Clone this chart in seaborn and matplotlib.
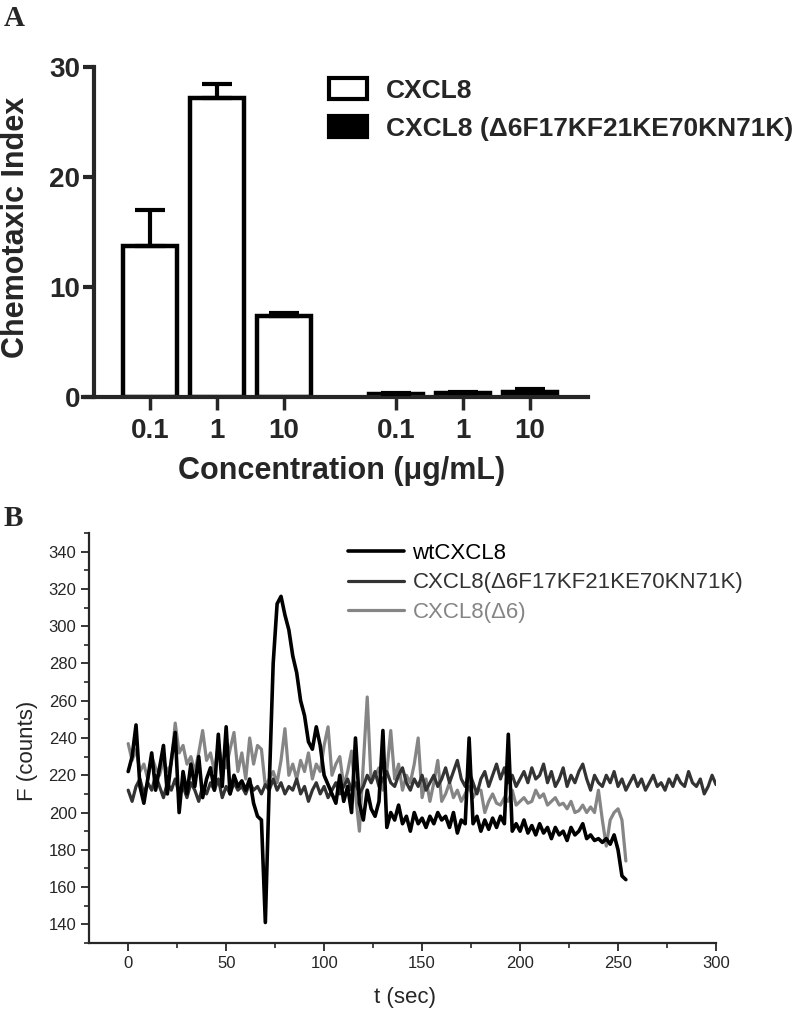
import numpy as np
import pandas as pd
import matplotlib
matplotlib.use("Agg")
import matplotlib.pyplot as plt
from matplotlib.patches import Patch
from matplotlib.ticker import MultipleLocator
import seaborn as sns

# ---------------- Data: panel A ----------------
conc_labels = ["0.1", "1", "10"]
variants = ["CXCL8", "CXCL8 (\u03946F17KF21KE70KN71K)"]
wt_index = [13.7, 27.2, 7.4]
wt_err = [3.3, 1.3, 0.2]
mut_index = [0.25, 0.35, 0.45]
mut_err = [0.1, 0.1, 0.3]

# ---------------- Data: panel B (sampled every 2 s) ----------------
series_names = ["wtCXCL8", "CXCL8(\u03946F17KF21KE70KN71K)", "CXCL8(\u03946)"]
wt_F = [222, 230, 247, 214, 205, 218, 232, 212, 224, 236,
        210, 228, 243, 200, 222, 210, 226, 214, 230, 208,
        218, 224, 212, 242, 214, 246, 210, 220, 214, 217,
        212, 218, 205, 198, 196, 141, 215, 280, 312, 316,
        306, 298, 284, 275, 260, 252, 238, 234, 246, 236,
        220, 215, 210, 205, 220, 206, 214, 200, 240, 205,
        196, 212, 202, 198, 206, 244, 192, 200, 196, 204,
        194, 198, 190, 200, 194, 197, 192, 198, 194, 200,
        196, 198, 192, 200, 189, 196, 194, 240, 194, 198,
        190, 196, 191, 197, 192, 198, 194, 242, 190, 194,
        190, 196, 189, 193, 188, 194, 189, 192, 186, 192,
        188, 190, 185, 192, 188, 190, 194, 186, 188, 185,
        186, 184, 186, 183, 188, 180, 166, 164]
mut_F = [212, 206, 214, 218, 210, 216, 212, 220, 214, 208,
         216, 212, 218, 210, 214, 208, 216, 212, 206, 214,
         210, 216, 212, 218, 208, 214, 210, 216, 212, 214,
         210, 216, 212, 214, 210, 215, 212, 218, 212, 216,
         210, 214, 212, 218, 210, 214, 206, 212, 216, 210,
         214, 208, 212, 216, 210, 214, 218, 212, 216, 210,
         214, 220, 216, 222, 214, 218, 222, 216, 214, 220,
         224, 216, 212, 218, 214, 220, 212, 216, 220, 214,
         218, 224, 216, 222, 228, 218, 214, 222, 216, 210,
         218, 222, 214, 220, 226, 218, 224, 216, 220, 214,
         218, 222, 216, 224, 218, 220, 226, 216, 222, 214,
         218, 224, 214, 220, 216, 222, 226, 218, 212, 220,
         216, 214, 220, 216, 222, 214, 218, 212, 216, 220,
         214, 218, 212, 216, 220, 214, 216, 212, 218, 214,
         220, 216, 214, 222, 216, 214, 218, 210, 214, 220,
         215]
d6_F = [237, 228, 234, 222, 226, 218, 230, 224, 220, 228,
        222, 226, 248, 232, 236, 226, 230, 222, 232, 244,
        228, 232, 222, 236, 226, 224, 234, 243, 222, 232,
        218, 240, 226, 236, 234, 214, 218, 222, 216, 228,
        245, 220, 226, 218, 228, 222, 232, 218, 226, 222,
        236, 246, 220, 226, 230, 214, 222, 233, 210, 190,
        226, 262, 216, 220, 224, 212, 222, 244, 218, 226,
        212, 220, 216, 226, 240, 208, 218, 206, 216, 228,
        206, 210, 216, 208, 212, 206, 210, 214, 208, 212,
        212, 200, 206, 210, 205, 204, 208, 206, 212, 204,
        206, 208, 205, 206, 212, 208, 210, 204, 206, 208,
        204, 205, 202, 206, 200, 201, 204, 200, 203, 200,
        212, 196, 182, 196, 200, 202, 196, 174]
sample_step = 2.0

sns.set_style("ticks")
plt.rcParams["font.family"] = ["Liberation Sans", "DejaVu Sans"]

W, H = 801, 1011
fig = plt.figure(figsize=(W / 100, H / 100), dpi=100)


def fx(px):
    return px / W


def fy(py):
    return 1 - py / H


# ---------------- Panel A ----------------
axA = fig.add_axes([fx(83), fy(397), (588 - 83) / W, (397 - 67) / H])
group_gap = 0.67
rows = []
for g, (vals, errs) in enumerate([(wt_index, wt_err), (mut_index, mut_err)]):
    for i, (v, e) in enumerate(zip(vals, errs)):
        rows.append({"pos": i + g * (len(conc_labels) + group_gap),
                     "val": v, "err": e, "variant": variants[g],
                     "label": conc_labels[i]})
dfA = pd.DataFrame(rows)

sns.barplot(data=dfA, x="pos", y="val", hue="variant", hue_order=variants,
            palette={variants[0]: "white", variants[1]: "black"},
            native_scale=True, width=0.8, edgecolor="black", linewidth=3.2,
            errorbar=None, legend=False, ax=axA, zorder=2)
axA.errorbar(dfA["pos"], dfA["val"], yerr=[np.zeros(len(dfA)), dfA["err"]],
             fmt="none", ecolor="black", elinewidth=3, capsize=11, capthick=3,
             zorder=3)

axA.set_xlim(-1.0, 6.54)
axA.set_ylim(0, 30)
axA.spines["left"].set_position(("data", -0.836))
axA.spines["top"].set_visible(False)
axA.spines["right"].set_visible(False)
for s in ("left", "bottom"):
    axA.spines[s].set_linewidth(3)
axA.set_yticks([0, 10, 20, 30])
axA.set_xticks(dfA["pos"])
axA.set_xticklabels(dfA["label"])
axA.tick_params(axis="y", direction="out", length=8, width=3, labelsize=20, pad=2)
axA.tick_params(axis="x", direction="out", length=9, width=2.5, labelsize=20, pad=6)
for lbl in axA.get_xticklabels() + axA.get_yticklabels():
    lbl.set_fontweight("bold")
axA.set_xlabel("Concentration (\u03bcg/mL)", fontsize=22, fontweight="bold")
axA.xaxis.set_label_coords((342 - 83) / 505, (397 - 471) / 330)
axA.xaxis.label.set_va("center")
axA.set_ylabel("Chemotaxic Index", fontsize=22, fontweight="bold")
axA.yaxis.set_label_coords((16 - 83) / 505, (397 - 227) / 330)
axA.yaxis.label.set_va("center")

handlesA = [Patch(facecolor="white", edgecolor="black", linewidth=3),
            Patch(facecolor="black", edgecolor="black", linewidth=3)]
axA.legend(handlesA, variants, loc="upper left",
           bbox_to_anchor=(fx(329), fy(78)), bbox_transform=fig.transFigure,
           frameon=False, borderpad=0, borderaxespad=0, handlelength=1.45,
           handleheight=0.85, handletextpad=0.7, labelspacing=0.5,
           prop={"weight": "bold", "size": 19})

fig.text(fx(14), fy(18), "A", fontsize=21, fontweight="bold",
         family=["Liberation Serif", "DejaVu Serif"], ha="center", va="center")

# ---------------- Panel B ----------------
axB = fig.add_axes([fx(89), fy(943), (716 - 89) / W, (943 - 533) / H])
colors = {"wtCXCL8": "#000000",
          series_names[1]: "#333333",
          series_names[2]: "#858585"}
widths = {"wtCXCL8": 2.6, series_names[1]: 2.3, series_names[2]: 2.3}
data_by_name = {series_names[0]: wt_F, series_names[1]: mut_F, series_names[2]: d6_F}
for name in [series_names[2], series_names[1], series_names[0]]:
    vals = data_by_name[name]
    dfl = pd.DataFrame({"t": np.arange(len(vals)) * sample_step, "F": vals})
    sns.lineplot(data=dfl, x="t", y="F", color=colors[name], linewidth=widths[name],
                 estimator=None, sort=False, label=name, ax=axB)

axB.set_xlim(-20, 300)
axB.set_ylim(130, 350)
axB.spines["top"].set_visible(False)
axB.spines["right"].set_visible(False)
for s in ("left", "bottom"):
    axB.spines[s].set_linewidth(1.6)
axB.set_xticks(range(0, 301, 50))
axB.set_yticks(range(140, 341, 20))
axB.xaxis.set_minor_locator(MultipleLocator(25))
axB.yaxis.set_minor_locator(MultipleLocator(10))
axB.tick_params(which="major", direction="out", length=6, width=1.3, labelsize=12, pad=3)
axB.tick_params(which="minor", direction="out", length=3.5, width=1.2)
axB.set_xlabel("t (sec)", fontsize=16)
axB.xaxis.set_label_coords((405 - 89) / 627, (943 - 997) / 410)
axB.xaxis.label.set_va("center")
axB.set_ylabel("F (counts)", fontsize=16)
axB.yaxis.set_label_coords((27 - 89) / 627, (943 - 751) / 410)
axB.yaxis.label.set_va("center")

hdl, lab = axB.get_legend_handles_labels()
order = [lab.index(n) for n in series_names]
legB = axB.legend([hdl[i] for i in order], [lab[i] for i in order],
                  loc="upper left", bbox_to_anchor=(fx(348), fy(543)),
                  bbox_transform=fig.transFigure, frameon=False, borderpad=0,
                  borderaxespad=0, handlelength=2.5, handletextpad=0.4,
                  labelspacing=0.38, fontsize=16)
for txt, n in zip(legB.get_texts(), series_names):
    txt.set_color(colors[n])

fig.text(fx(13), fy(518), "B", fontsize=21, fontweight="bold",
         family=["Liberation Serif", "DejaVu Serif"], ha="center", va="center")

fig.savefig("out.png", dpi=100)
